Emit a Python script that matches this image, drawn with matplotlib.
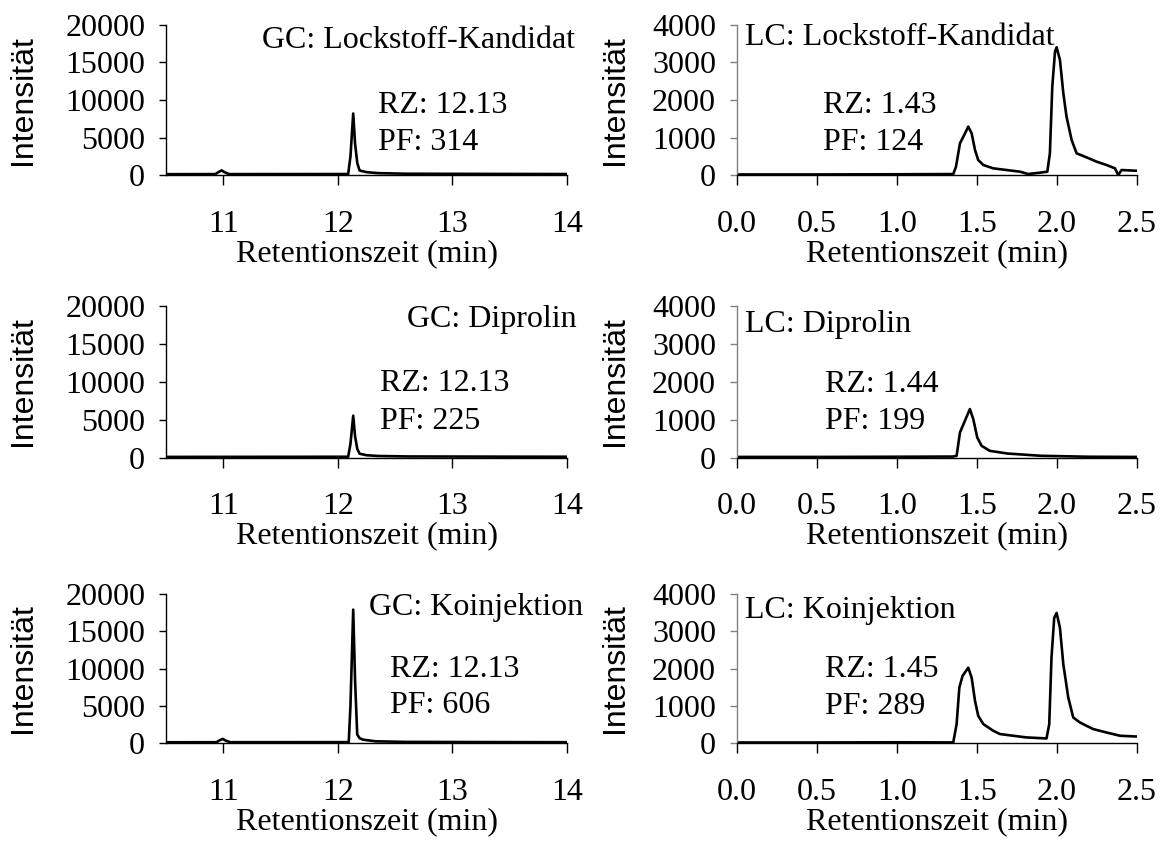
import numpy as np
import matplotlib.pyplot as plt

# GC traces (retention time in min, intensity)
gc_lock_t = [10.5, 10.93, 10.96, 10.985, 11.01, 11.05, 12.09, 12.11, 12.134, 12.15, 12.17, 12.19, 12.25, 12.35, 12.6, 13.5, 14.0]
gc_lock_i = [110, 120, 400, 620, 380, 120, 130, 2500, 8200, 4200, 1550, 600, 380, 250, 170, 140, 130]

gc_dipr_t = [10.5, 11.5, 12.09, 12.11, 12.134, 12.15, 12.17, 12.19, 12.25, 12.35, 12.6, 13.5, 14.0]
gc_dipr_i = [80, 90, 100, 1800, 5500, 2800, 1100, 500, 300, 200, 140, 110, 100]

gc_koin_t = [10.5, 10.94, 10.97, 10.995, 11.02, 11.06, 12.095, 12.11, 12.134, 12.15, 12.169, 12.19, 12.22, 12.33, 12.6, 13.5, 14.0]
gc_koin_i = [100, 110, 380, 550, 330, 110, 120, 5000, 17900, 8500, 1150, 650, 450, 230, 150, 120, 110]

# LC traces
lc_lock_t = [0.0, 0.5, 1.0, 1.352, 1.369, 1.394, 1.415, 1.446, 1.467, 1.488, 1.508, 1.540, 1.602, 1.685, 1.769,
             1.82, 1.894, 1.940, 1.956, 1.971, 1.988, 1.998, 2.019, 2.040, 2.060, 2.092, 2.123, 2.185, 2.248,
             2.31, 2.363, 2.383, 2.404, 2.49, 2.5]
lc_lock_i = [15, 15, 20, 25, 220, 845, 1020, 1290, 1110, 667, 400, 267, 178, 133, 89,
             27, 62, 89, 578, 2355, 3290, 3405, 3067, 2178, 1556, 933, 578, 471, 356,
             267, 178, 0, 133, 115, 115]

lc_dipr_t = [0.0, 0.5, 1.0, 1.35, 1.373, 1.394, 1.425, 1.456, 1.477, 1.502, 1.529, 1.58, 1.69, 1.9, 2.2, 2.5]
lc_dipr_i = [15, 15, 20, 25, 45, 660, 967, 1275, 1012, 527, 308, 176, 105, 45, 20, 15]

lc_koin_t = [0.0, 0.5, 1.0, 1.352, 1.373, 1.39, 1.41, 1.446, 1.467, 1.488, 1.508, 1.540, 1.602, 1.644, 1.727,
             1.81, 1.935, 1.952, 1.966, 1.983, 1.998, 2.019, 2.04, 2.071, 2.102, 2.144, 2.185, 2.227, 2.31,
             2.394, 2.49, 2.5]
lc_koin_i = [15, 15, 20, 16, 508, 1487, 1800, 2022, 1754, 1131, 730, 508, 329, 241, 195,
             150, 123, 508, 2289, 3359, 3492, 3091, 2112, 1219, 685, 551, 462, 374, 283,
             195, 176, 176]

gc_titles = ['GC: Lockstoff-Kandidat', 'GC: Diprolin', 'GC: Koinjektion']
lc_titles = ['LC: Lockstoff-Kandidat', 'LC: Diprolin', 'LC: Koinjektion']
gc_rz = ['12.13', '12.13', '12.13']
gc_pf = ['314', '225', '606']
lc_rz = ['1.43', '1.44', '1.45']
lc_pf = ['124', '199', '289']

gc_traces = [(gc_lock_t, gc_lock_i), (gc_dipr_t, gc_dipr_i), (gc_koin_t, gc_koin_i)]
lc_traces = [(lc_lock_t, lc_lock_i), (lc_dipr_t, lc_dipr_i), (lc_koin_t, lc_koin_i)]

serif = 'Liberation Serif'
sans = 'Liberation Sans'
fs = 23

fig = plt.figure(figsize=(11.6, 8.41), dpi=100)

# row layout: (bottom, height)
rows = [(0.7919, 0.1784), (0.4560, 0.1807), (0.1165, 0.1772)]
# text placement per row (axes fraction, baselines): title x, title y, RZ x, RZ y, PF y
gc_txt = [(1.02, 0.847, 0.529, 0.413, 0.167),
          (1.025, 0.859, 0.534, 0.436, 0.188),
          (1.04, 0.859, 0.559, 0.443, 0.201)]
lc_txt = [(0.02, 0.867, 0.215, 0.413, 0.167),
          (0.02, 0.825, 0.22, 0.43, 0.19),
          (0.02, 0.84, 0.22, 0.443, 0.195)]


def style_axes(ax, spine_col):
    for s in ['top', 'right']:
        ax.spines[s].set_visible(False)
    ax.spines['left'].set_color(spine_col)
    ax.spines['left'].set_linewidth(1.0)
    ax.spines['bottom'].set_linewidth(1.0)
    ax.tick_params(axis='x', direction='out', length=7, width=1.0, pad=18)
    ax.tick_params(axis='y', direction='out', length=5, width=1.0, pad=10, color=spine_col)
    for lab in ax.get_xticklabels() + ax.get_yticklabels():
        lab.set_fontfamily(serif)
        lab.set_fontsize(fs)
    ax.set_xlabel('Retentionszeit (min)', fontfamily=serif, fontsize=fs, labelpad=0)
    ax.set_ylabel('Intensität', fontfamily=sans, fontsize=fs)


def annotate(ax, pos, title, rz, pf, title_ha):
    tx, ty, rx, ry, py = pos
    ax.text(tx, ty, title, transform=ax.transAxes, ha=title_ha, va='baseline',
            fontfamily=serif, fontsize=fs)
    ax.text(rx, ry, 'RZ: ' + rz, transform=ax.transAxes, ha='left', va='baseline',
            fontfamily=serif, fontsize=fs)
    ax.text(rx, py, 'PF: ' + pf, transform=ax.transAxes, ha='left', va='baseline',
            fontfamily=serif, fontsize=fs)


for r in range(3):
    b, h = rows[r]

    # GC column
    ax = fig.add_axes([0.1431, b, 0.3457, h])
    t, i = gc_traces[r]
    ax.plot(t, i, color='black', lw=1.9)
    ax.set_xlim(10.5, 14)
    ax.set_ylim(0, 20000)
    ax.set_xticks([11, 12, 13, 14])
    ax.set_yticks([0, 5000, 10000, 15000, 20000])
    style_axes(ax, 'black')
    ax.yaxis.set_label_coords(-0.318, 0.5)
    annotate(ax, gc_txt[r], gc_titles[r], gc_rz[r], gc_pf[r], 'right')

    # LC column
    ax = fig.add_axes([0.6353, b, 0.3448, h])
    t, i = lc_traces[r]
    ax.plot(t, i, color='black', lw=1.9)
    ax.set_xlim(0, 2.5)
    ax.set_ylim(0, 4000)
    ticks = np.arange(0, 2.51, 0.5)
    ax.set_xticks(ticks)
    ax.set_xticklabels(['%.1f' % v for v in ticks])
    ax.set_yticks([0, 1000, 2000, 3000, 4000])
    style_axes(ax, '#808080')
    ax.yaxis.set_label_coords(-0.267, 0.5)
    annotate(ax, lc_txt[r], lc_titles[r], lc_rz[r], lc_pf[r], 'left')

fig.savefig('out.png', dpi=100)
